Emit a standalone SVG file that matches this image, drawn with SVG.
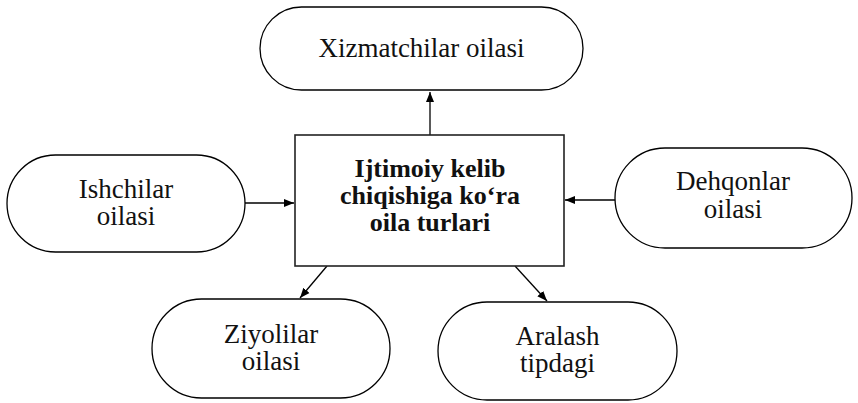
<svg xmlns="http://www.w3.org/2000/svg" width="858" height="403" viewBox="0 0 858 403">
<style>
.node{fill:#fff;stroke:#000;stroke-width:1.3}
.box{fill:#fff;stroke:#222;stroke-width:1.6}
.t{font-family:"Liberation Serif","Times New Roman",serif;font-size:27px;fill:#111;text-anchor:middle}
.b{font-family:"Liberation Serif","Times New Roman",serif;font-size:26px;font-weight:bold;fill:#111;text-anchor:middle}
.c{stroke:#000;stroke-width:1.3;fill:none;marker-end:url(#ah)}
</style>
<defs>
<marker id="ah" viewBox="0 0 10 10" refX="10" refY="5" markerWidth="10" markerHeight="10" markerUnits="userSpaceOnUse" orient="auto">
<path d="M0,1 L10,5 L0,9 Z" fill="#000"/>
</marker>
</defs>
<g id="connectors">
<line class="c" x1="430" y1="135" x2="430" y2="92"/>
<line class="c" x1="245" y1="203" x2="294" y2="203"/>
<line class="c" x1="615" y1="200" x2="565" y2="200"/>
<line class="c" x1="327" y1="266" x2="300" y2="298"/>
<line class="c" x1="515" y1="266" x2="547" y2="301"/>
</g>
<g id="center">
<rect class="box" x="295" y="135" width="269" height="131"/>
<text class="b" x="430" y="177"><tspan x="430">Ijtimoiy kelib</tspan><tspan x="430" dy="27">chiqishiga ko‘ra</tspan><tspan x="430" dy="27">oila turlari</tspan></text>
</g>
<g id="xizmatchilar">
<rect class="node" x="260" y="7" width="323" height="83" rx="41.5"/>
<text class="t" x="421.5" y="57">Xizmatchilar oilasi</text>
</g>
<g id="ishchilar">
<rect class="node" x="7" y="155" width="238" height="97" rx="48.5"/>
<text class="t" x="126" y="198"><tspan x="126">Ishchilar</tspan><tspan x="126" dy="27">oilasi</tspan></text>
</g>
<g id="dehqonlar">
<rect class="node" x="615" y="148" width="237" height="100" rx="50"/>
<text class="t" x="733" y="190"><tspan x="733">Dehqonlar</tspan><tspan x="733" dy="28">oilasi</tspan></text>
</g>
<g id="ziyolilar">
<rect class="node" x="152" y="299" width="238" height="99" rx="49.5"/>
<text class="t" x="271" y="343"><tspan x="271">Ziyolilar</tspan><tspan x="271" dy="27">oilasi</tspan></text>
</g>
<g id="aralash">
<rect class="node" x="438" y="302" width="239" height="98" rx="49"/>
<text class="t" x="557.5" y="345"><tspan x="557.5">Aralash</tspan><tspan x="557.5" dy="27">tipdagi</tspan></text>
</g>
</svg>
